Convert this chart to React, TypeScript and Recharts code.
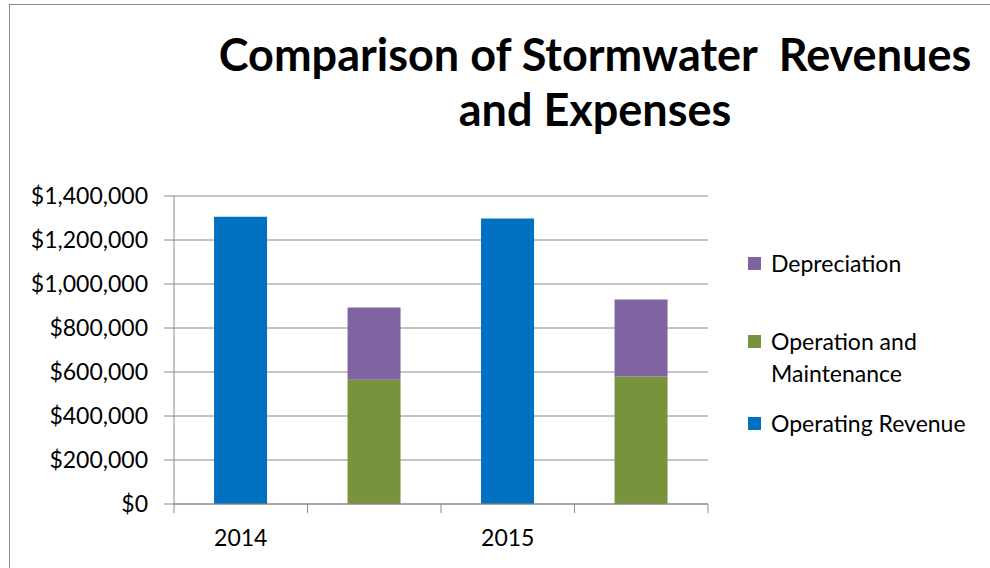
import React from "react";
import { Bar, BarChart, CartesianGrid, XAxis, YAxis } from "recharts";

const categories = ["2014", "", "2015", ""];
const operatingRevenue = [1306000, null, 1298000, null];
const operationMaintenance = [null, 565000, null, 579000];
const depreciation = [null, 328000, null, 350000];
const yTicks = [0, 200000, 400000, 600000, 800000, 1000000, 1200000, 1400000];

const series = [
	{ key: "revenue", name: "Operating Revenue", color: "#0070C0", values: operatingRevenue },
	{ key: "om", name: "Operation and Maintenance", color: "#77933C", values: operationMaintenance },
	{ key: "dep", name: "Depreciation", color: "#8064A2", values: depreciation },
];

const WIDTH = 990;
const HEIGHT = 568;
const MARGIN = { top: 196, right: 282, left: 0, bottom: 0 };
const Y_AXIS_W = 174;
const PLOT_W = WIDTH - MARGIN.right - MARGIN.left - Y_AXIS_W;

const FONT = "Lato, 'Open Sans', sans-serif";
const GRID = "#8a8a8a";

const data = categories.map((name, i) => {
	const row: Record<string, string | number | null> = { name };
	series.forEach((s) => {
		row[s.key] = s.values[i];
	});
	return row;
});

const money = (v: number) => `$${v.toLocaleString("en-US")}`;

// label in the middle of the slot, tick marks on the slot borders
function XTick(props: any) {
	const { x, y, payload, index } = props;
	const half = PLOT_W / categories.length / 2;
	const last = index === categories.length - 1;
	return (
		<g>
			<line x1={x - half} x2={x - half} y1={y} y2={y + 9} stroke={GRID} />
			{last && <line x1={x + half} x2={x + half} y1={y} y2={y + 9} stroke={GRID} />}
			{payload.value && (
				<text x={x} y={y + 42} textAnchor="middle" fill="#000" fontSize={23} fontFamily={FONT}>
					{payload.value}
				</text>
			)}
		</g>
	);
}

// legend is listed top-down in reverse stacking order, like Excel does
const legendGaps = [46, 18, 0];

function LegendBox() {
	const items = [...series].reverse();
	return (
		<div
			style={{
				position: "absolute",
				left: 748,
				top: 247,
				fontFamily: FONT,
				fontSize: 23,
				color: "#000",
				lineHeight: "32px",
			}}
		>
			{items.map((it, i) => (
				<div key={it.key} style={{ display: "flex", marginBottom: legendGaps[i] }}>
					<div
						style={{
							width: 13,
							height: 13,
							background: it.color,
							marginTop: 10,
							marginRight: 10,
							flexShrink: 0,
						}}
					/>
					<div style={{ width: 200 }}>{it.name}</div>
				</div>
			))}
		</div>
	);
}

export default function App() {
	return (
		<div
			style={{
				position: "absolute",
				left: 0,
				top: 0,
				width: WIDTH,
				height: HEIGHT,
				overflow: "hidden",
				background: "#fff",
			}}
		>
			<div
				style={{
					position: "absolute",
					left: 9,
					top: 4,
					width: WIDTH + 20,
					height: HEIGHT + 20,
					border: "1px solid #8c8c8c",
				}}
			/>
			<div
				style={{
					position: "absolute",
					left: 195,
					width: 800,
					top: 27,
					textAlign: "center",
					fontFamily: FONT,
					fontWeight: 700,
					fontSize: 45,
					lineHeight: "55px",
					whiteSpace: "pre",
					color: "#000",
				}}
			>
				{"Comparison of Stormwater  Revenues\nand Expenses"}
			</div>
			<div style={{ position: "absolute", left: 0, top: 0 }}>
				<BarChart width={WIDTH} height={HEIGHT} data={data} margin={MARGIN} barCategoryGap="30%">
					<CartesianGrid vertical={false} stroke={GRID} />
					<XAxis
						dataKey="name"
						height={64}
						axisLine={{ stroke: GRID }}
						tickLine={false}
						tickSize={0}
						tickMargin={0}
						interval={0}
						tick={<XTick />}
					/>
					<YAxis
						width={Y_AXIS_W}
						domain={[0, 1400000]}
						ticks={yTicks}
						interval={0}
						tickFormatter={money}
						axisLine={{ stroke: GRID }}
						tickLine={{ stroke: GRID }}
						tickSize={10}
						tickMargin={16}
						tick={{ fill: "#000", fontSize: 23, fontFamily: FONT }}
					/>
					{series.map((s) => (
						<Bar
							key={s.key}
							dataKey={s.key}
							name={s.name}
							stackId="a"
							fill={s.color}
							isAnimationActive={false}
						/>
					))}
				</BarChart>
			</div>
			<LegendBox />
		</div>
	);
}
